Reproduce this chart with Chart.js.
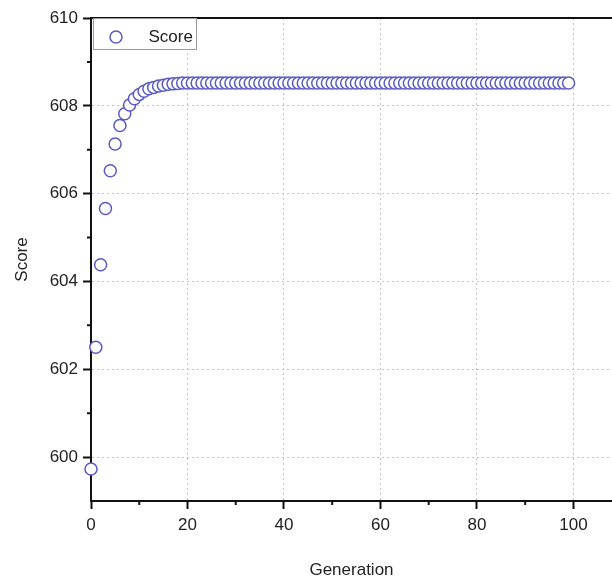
<!DOCTYPE html>
<html>
<head>
<meta charset="utf-8">
<title>Score vs Generation</title>
<script src="https://cdn.jsdelivr.net/npm/chart.js@4.4.0/dist/chart.umd.min.js"></script>
<style>
    html, body { margin: 0; padding: 0; background: #fff; overflow: hidden; }
    #wrap { width: 612px; height: 581px; }
</style>
</head>
<body>
<div id="wrap"><canvas id="scoreChart" width="612" height="581"></canvas></div>
<script>
// Generation index (x) and best score per generation (y)
const generations = [
    0, 1, 2, 3, 4, 5, 6, 7, 8, 9,
    10, 11, 12, 13, 14, 15, 16, 17, 18, 19,
    20, 21, 22, 23, 24, 25, 26, 27, 28, 29,
    30, 31, 32, 33, 34, 35, 36, 37, 38, 39,
    40, 41, 42, 43, 44, 45, 46, 47, 48, 49,
    50, 51, 52, 53, 54, 55, 56, 57, 58, 59,
    60, 61, 62, 63, 64, 65, 66, 67, 68, 69,
    70, 71, 72, 73, 74, 75, 76, 77, 78, 79,
    80, 81, 82, 83, 84, 85, 86, 87, 88, 89,
    90, 91, 92, 93, 94, 95, 96, 97, 98, 99
];
const scores = [
    599.73, 602.50, 604.38, 605.66, 606.52, 607.13, 607.55, 607.82, 608.02, 608.16,
    608.26, 608.33, 608.39, 608.42, 608.45, 608.47, 608.49, 608.50, 608.51, 608.52,
    608.52, 608.52, 608.52, 608.52, 608.52, 608.52, 608.52, 608.52, 608.52, 608.52,
    608.52, 608.52, 608.52, 608.52, 608.52, 608.52, 608.52, 608.52, 608.52, 608.52,
    608.52, 608.52, 608.52, 608.52, 608.52, 608.52, 608.52, 608.52, 608.52, 608.52,
    608.52, 608.52, 608.52, 608.52, 608.52, 608.52, 608.52, 608.52, 608.52, 608.52,
    608.52, 608.52, 608.52, 608.52, 608.52, 608.52, 608.52, 608.52, 608.52, 608.52,
    608.52, 608.52, 608.52, 608.52, 608.52, 608.52, 608.52, 608.52, 608.52, 608.52,
    608.52, 608.52, 608.52, 608.52, 608.52, 608.52, 608.52, 608.52, 608.52, 608.52,
    608.52, 608.52, 608.52, 608.52, 608.52, 608.52, 608.52, 608.52, 608.52, 608.52
];

// Axis ticks
const xMajorTicks = [0, 20, 40, 60, 80, 100];
const xMinorTicks = [10, 30, 50, 70, 90];
const yMajorTicks = [600, 602, 604, 606, 608, 610];
const yMinorTicks = [601, 603, 605, 607, 609];

const FONT = { family: '"Liberation Sans", Arial, sans-serif', size: 17 };
const TEXT_COLOR = '#222';
const MARKER_COLOR = '#5a5ac3';

Chart.defaults.font.family = FONT.family;

// Short unlabeled ticks between the major ones
const minorTicks = {
    id: 'minorTicks',
    afterDraw(chart) {
        const { ctx, chartArea, scales } = chart;
        ctx.save();
        ctx.strokeStyle = '#111';
        ctx.lineWidth = 2;
        ctx.beginPath();
        xMinorTicks.forEach(v => {
            const px = scales.x.getPixelForValue(v);
            ctx.moveTo(px, chartArea.bottom);
            ctx.lineTo(px, chartArea.bottom + 4);
        });
        yMinorTicks.forEach(v => {
            const py = scales.y.getPixelForValue(v);
            ctx.moveTo(chartArea.left, py);
            ctx.lineTo(chartArea.left - 4, py);
        });
        ctx.stroke();
        ctx.restore();
    }
};

// Boxed legend in the top-left corner of the plot
const legendBox = {
    id: 'legendBox',
    afterDraw(chart) {
        const { ctx, chartArea } = chart;
        const ds = chart.data.datasets[0];
        const left = chartArea.left + 2.5;
        const top = chartArea.top + 0.5;
        const w = 103, h = 31;
        ctx.save();
        ctx.fillStyle = '#fff';
        ctx.fillRect(left, top, w, h);
        ctx.strokeStyle = '#9a9a9a';
        ctx.lineWidth = 1;
        ctx.strokeRect(left, top, w, h);
        ctx.beginPath();
        ctx.arc(left + 22.5, top + 18.5, 6, 0, Math.PI * 2);
        ctx.lineWidth = 1.5;
        ctx.strokeStyle = ds.borderColor;
        ctx.stroke();
        ctx.fillStyle = TEXT_COLOR;
        ctx.font = `${FONT.size}px ${FONT.family}`;
        ctx.textBaseline = 'middle';
        ctx.fillText(ds.label, left + 55, top + 19);
        ctx.restore();
    }
};

const ctx = document.getElementById('scoreChart');
new Chart(ctx, {
    type: 'scatter',
    data: {
        datasets: [{
            label: 'Score',
            data: generations.map((g, i) => ({ x: g, y: scores[i] })),
            borderColor: MARKER_COLOR,
            backgroundColor: '#fff',
            pointRadius: 6,
            pointHoverRadius: 6,
            pointBorderWidth: 1.5,
            showLine: false,
            clip: false
        }]
    },
    options: {
        responsive: false,
        animation: false,
        // plot runs off the right edge in the original, so no auto padding for markers
        layout: { padding: 0, autoPadding: false },
        plugins: {
            legend: { display: false },
            tooltip: { enabled: false }
        },
        scales: {
            x: {
                type: 'linear',
                position: 'bottom',
                min: 0,
                max: 108,
                afterBuildTicks: (scale) => { scale.ticks = xMajorTicks.map(v => ({ value: v })); },
                afterFit: (scale) => { scale.height = 80; },
                ticks: { font: FONT, color: TEXT_COLOR, padding: 6, maxRotation: 0 },
                grid: { color: '#c4c4c4', lineWidth: 1, tickLength: 8, tickColor: '#111', tickWidth: 2 },
                border: { display: true, color: '#111', width: 2, dash: [2, 3] },
                title: { display: true, text: 'Generation', font: FONT, color: TEXT_COLOR, padding: { top: 0, bottom: 0 } }
            },
            x2: {
                type: 'linear',
                position: 'top',
                min: 0,
                max: 108,
                afterFit: (scale) => { scale.height = 18; },
                ticks: { display: false },
                grid: { display: false, drawTicks: false },
                border: { display: true, color: '#111', width: 2 }
            },
            y: {
                type: 'linear',
                position: 'left',
                min: 599,
                max: 610,
                afterBuildTicks: (scale) => { scale.ticks = yMajorTicks.map(v => ({ value: v })); },
                afterFit: (scale) => { scale.width = 91; },
                ticks: { font: FONT, color: TEXT_COLOR, padding: 5 },
                grid: { color: '#c4c4c4', lineWidth: 1, tickLength: 8, tickColor: '#111', tickWidth: 2 },
                border: { display: true, color: '#111', width: 2, dash: [2, 3] },
                title: { display: true, text: 'Score', font: FONT, color: TEXT_COLOR, padding: { top: 12, bottom: 0 } }
            }
        }
    },
    plugins: [minorTicks, legendBox]
});
</script>
</body>
</html>
